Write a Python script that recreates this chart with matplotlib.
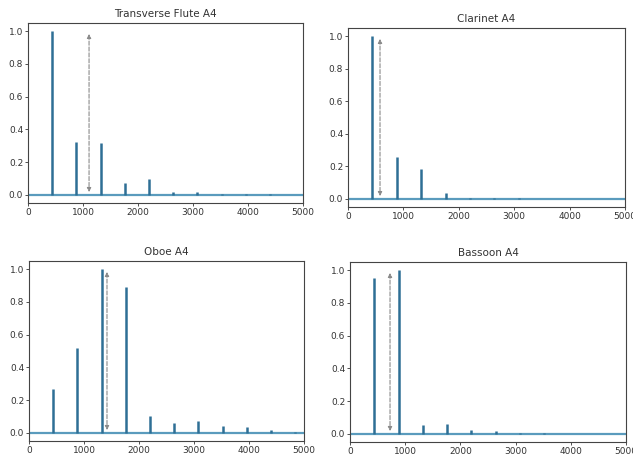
import matplotlib.pyplot as plt

# harmonic peaks of A4 (440 Hz) for each instrument, normalised amplitude
titles = ["Transverse Flute A4", "Clarinet A4", "Oboe A4", "Bassoon A4"]
harmonics = [440, 880, 1320, 1760, 2200, 2640, 3080, 3520, 3960, 4400, 4840]
flute_amp = [1.0, 0.32, 0.315, 0.075, 0.097, 0.02, 0.015, 0.008, 0.004, 0.003, 0.0]
clarinet_amp = [1.0, 0.26, 0.185, 0.035, 0.005, 0.004, 0.003, 0.0, 0.0, 0.0, 0.0]
oboe_amp = [0.27, 0.52, 1.0, 0.89, 0.105, 0.057, 0.07, 0.04, 0.035, 0.018, 0.008]
bassoon_amp = [0.955, 1.0, 0.055, 0.06, 0.025, 0.015, 0.008, 0.003, 0.0, 0.0, 0.0]
amps = [flute_amp, clarinet_amp, oboe_amp, bassoon_amp]
# spectral centroid markers (dashed arrows)
centroids = [1110, 578, 1418, 725]

W, H = 633, 458
# axes boxes in pixels: left, top, right, bottom
boxes = [(28, 23, 303, 203), (348, 28, 625, 207),
         (29, 261, 304, 441), (350, 262, 626, 442)]

fig = plt.figure(figsize=(W / 100, H / 100), dpi=100)
line_color = "#2e6f95"

for title, amp, cen, (l, t, r, b) in zip(titles, amps, centroids, boxes):
    ax = fig.add_axes([l / W, 1 - b / H, (r - l) / W, (b - t) / H])
    ax.axhline(0, color="#5a9bbd", lw=1.6)
    ax.vlines(harmonics, 0, amp, color=line_color, lw=1.8)
    ax.annotate("", xy=(cen, 0.0), xytext=(cen, 1.0),
                arrowprops=dict(arrowstyle="<|-|>", ls="--", color="#8a8a8a",
                                lw=0.8, mutation_scale=6))
    ax.set_xlim(0, 5000)
    ax.set_ylim(-0.05, 1.05)
    ax.set_xticks([0, 1000, 2000, 3000, 4000, 5000])
    ax.set_yticks([0.0, 0.2, 0.4, 0.6, 0.8, 1.0])
    ax.tick_params(labelsize=6.5, length=2, width=0.6, pad=1.5, colors="#333333")
    for s in ax.spines.values():
        s.set_linewidth(0.8)
        s.set_color("#444444")
    ax.set_title(title, fontsize=7.5, color="#333333", pad=4)

fig.savefig("out.png", dpi=100)
